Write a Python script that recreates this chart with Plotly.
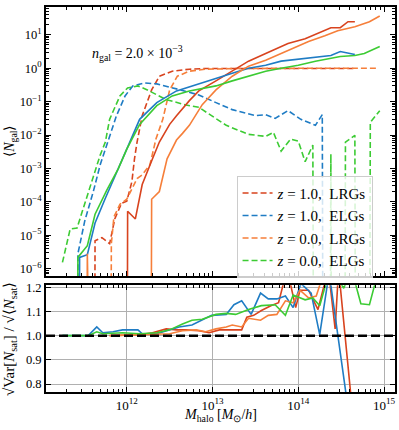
import numpy as np
import plotly.graph_objects as go
from plotly.subplots import make_subplots

# ---- data: log10(M_halo [Msun/h]) and log10(<N_gal>); None = empty bin (N = 0)
lrg_z1_cen_logm = [11.53, 11.63, 11.71, 11.80, 11.86, 11.94, 12.00, 12.06, 12.09, 12.12, 12.18, 12.29,
                   12.38, 12.53, 12.73, 12.92, 13.30, 13.70, 14.10, 14.40, 14.66]
lrg_z1_cen_logn = [None, -5.16, -5.07, -5.25, -4.51, -4.04, -3.98, -3.39, -2.71, -2.21, -1.42, -0.65,
                   -0.24, -0.09, -0.03, -0.01, -0.01, -0.01, -0.01, -0.01, -0.01]

elg_z1_cen_logm = [11.34, 11.43, 11.51, 11.61, 11.69, 11.78, 11.88, 11.98, 12.07, 12.21, 12.35, 12.58,
                   12.84, 13.04, 13.23, 13.50, 13.62, 13.73, 13.88, 14.03, 14.20, 14.28, 14.38]
elg_z1_cen_logn = [None, -5.55, -4.57, -3.69, -2.89, -2.21, -1.42, -0.83, -0.53, -0.44, -0.47, -0.62,
                   -0.80, -1.03, -1.24, -1.42, -1.39, -1.50, -1.27, -1.53, -1.71, -1.39, None]

lrg_z0_cen_logm = [11.72, 11.82, 11.85, 11.92, 12.00, 12.07, 12.12, 12.18, 12.27, 12.34, 12.42, 12.50,
                   12.59, 12.73, 12.92, 13.30, 13.70, 14.10, 14.50, 14.94]
lrg_z0_cen_logn = [None, -5.25, -4.45, -4.07, -3.92, -3.54, -3.30, -3.19, -2.89, -2.12, -1.53, -0.65,
                   -0.24, -0.09, -0.03, -0.01, 0.0, 0.0, 0.0, 0.0]

elg_z0_cen_logm = [11.25, 11.34, 11.42, 11.58, 11.69, 11.75, 11.80, 11.92, 12.01, 12.13, 12.24, 12.46,
                   12.69, 12.84, 13.16, 13.42, 13.62, 13.71, 13.80, 13.91, 14.00, 14.08, 14.17, 14.28,
                   14.38, 14.47, 14.55, 14.66, 14.75, 14.84, 14.95]
elg_z0_cen_logn = [-5.81, -4.81, -4.78, -3.48, -2.60, -2.21, -1.53, -0.83, -0.59, -0.53, -0.65, -0.94,
                   -1.10, -1.17, -1.71, -1.98, -2.04, -1.92, -2.48, -2.12, -2.18, -2.80, -2.30, None,
                   -2.57, None, -2.21, -2.01, None, -1.62, -1.27]

lrg_z1_sat_logm = [11.92, 12.01, 12.10, 12.18, 12.30, 12.38, 12.50, 12.58, 12.73, 12.84, 13.04, 13.23,
                   13.42, 13.62, 13.88, 14.08, 14.27, 14.38, 14.49, 14.58, 14.66]
lrg_z1_sat_logn = [None, -4.28, -4.51, -3.48, -2.71, -2.21, -1.68, -1.42, -0.97, -0.68, -0.38, -0.09,
                   0.21, 0.44, 0.74, 0.88, 1.09, 1.21, 1.21, 1.39, 1.39]

elg_z1_sat_logm = [11.34, 11.45, 11.54, 11.63, 11.75, 11.88, 12.01, 12.15, 12.35, 12.58, 12.76, 12.94,
                   13.04, 13.23, 13.42, 13.62, 13.80, 14.00, 14.20, 14.38, 14.49, 14.66]
elg_z1_sat_logn = [None, -5.66, -5.58, -4.63, -3.89, -3.10, -2.36, -1.53, -1.03, -0.68, -0.53, -0.38,
                   -0.29, -0.15, 0.00, 0.09, 0.21, 0.27, 0.32, 0.38, 0.50, 0.41]

lrg_z0_sat_logm = [11.43, 11.54, 11.63, 12.18, 12.29, 12.38, 12.47, 12.58, 12.65, 12.73, 12.88, 13.04,
                   13.23, 13.42, 13.62, 13.88, 14.12, 14.31, 14.46, 14.66, 14.83, 14.95]
lrg_z0_sat_logn = [None, -5.55, None, None, -3.92, -3.69, -2.71, -2.15, -1.95, -1.71, -1.09, -0.65,
                   -0.24, 0.06, 0.24, 0.53, 0.80, 0.97, 1.12, 1.24, 1.39, 1.56]

elg_z0_sat_logm = [11.34, 11.43, 11.54, 11.63, 11.77, 11.90, 12.00, 12.15, 12.35, 12.53, 12.73, 12.94,
                   13.04, 13.23, 13.42, 13.62, 13.80, 14.00, 14.20, 14.38, 14.49, 14.66, 14.77, 14.95]
elg_z0_sat_logn = [None, -5.66, -5.31, -4.37, -3.63, -3.01, -2.42, -1.68, -1.12, -0.83, -0.68, -0.59,
                   -0.53, -0.38, -0.24, -0.09, 0.00, 0.09, 0.21, 0.29, 0.35, 0.38, 0.44, 0.65]

# ---- satellite variance ratio sqrt(Var[N_sat]) / sqrt(<N_sat>)
lrg_z1_ratio_logm = [11.80, 12.15, 12.30, 12.46, 12.58, 12.69, 12.84, 12.96, 13.08, 13.19, 13.34, 13.40,
                     13.48, 13.57, 13.68, 13.77, 13.87, 13.97, 14.02, 14.12, 14.23, 14.35, 14.43, 14.47, 14.64]
lrg_z1_ratio = [1.0, 1.004, 1.012, 1.028, 1.024, 1.024, 1.020, 1.012, 1.024, 1.024, 1.024, 1.076,
                1.084, 1.104, 1.124, 1.136, 1.276, 1.116, 1.188, 1.188, 1.108, 1.276, 1.028, 1.276, 0.656]

elg_z1_ratio_logm = [11.25, 11.55, 11.65, 11.72, 11.84, 11.95, 12.13, 12.18, 12.35, 12.50, 12.61, 12.76,
                     12.88, 12.99, 13.16, 13.25, 13.34, 13.45, 13.56, 13.65, 13.75, 13.85, 13.94, 14.03,
                     14.15, 14.25, 14.36, 14.58]
elg_z1_ratio = [1.0, 1.0, 1.036, 1.012, 1.016, 1.024, 1.024, 1.008, 1.008, 1.024, 1.036, 1.044,
                1.064, 1.084, 1.088, 1.128, 1.144, 1.088, 1.176, 1.152, 1.152, 1.164, 1.116, 1.216,
                1.176, 1.004, 1.26, 0.70]

lrg_z0_ratio_logm = [11.80, 12.30, 12.50, 12.65, 12.81, 12.92, 13.04, 13.16, 13.23, 13.34, 13.42, 13.56,
                     13.65, 13.75, 13.85, 13.94, 14.02, 14.12, 14.21, 14.25, 14.36, 14.46, 14.58, 14.69,
                     14.83, 14.95]
lrg_z0_ratio = [1.0, 1.004, 1.008, 1.020, 1.024, 1.016, 1.028, 1.036, 1.044, 1.036, 1.072, 1.064,
                1.084, 1.088, 1.144, 1.136, 1.188, 1.156, 1.164, 1.208, 1.276, 1.256, 1.276, 1.256,
                1.276, 1.30]

elg_z0_ratio_logm = [11.25, 11.55, 11.65, 11.72, 11.95, 12.15, 12.35, 12.50, 12.65, 12.76, 12.88, 13.04,
                     13.16, 13.27, 13.42, 13.57, 13.73, 13.85, 13.94, 14.08, 14.17, 14.25, 14.32, 14.43,
                     14.53, 14.62, 14.73, 14.83, 14.94]
elg_z0_ratio = [1.0, 1.0, 1.016, 1.008, 1.012, 1.008, 1.012, 1.024, 1.048, 1.064, 1.068, 1.088,
                1.092, 1.088, 1.108, 1.124, 1.128, 1.084, 1.168, 1.148, 1.156, 1.124, 1.212, 1.256,
                1.196, 1.276, 1.132, 1.128, 1.276]

RED, BLUE, ORANGE, GREEN = "#d8431e", "#1f7cc4", "#f67f3a", "#3ccb33"
FONT = "Liberation Serif"


def mass(logm):
    return 10 ** np.array(logm, dtype=float)


def ngal(logn):
    a = np.array(logn, dtype=float)
    n = np.where(np.isnan(a), 0.0, 10 ** np.nan_to_num(a))
    # empty bins drop off the bottom of the log axis (like matplotlib's clip)
    return np.where(n > 0, n, 1e-100)


fig = make_subplots(rows=2, cols=1, shared_xaxes=True)

series = [
    ("<i>z</i> = 1.0,  LRGs", RED, lrg_z1_cen_logm, lrg_z1_cen_logn, lrg_z1_sat_logm, lrg_z1_sat_logn,
     lrg_z1_ratio_logm, lrg_z1_ratio),
    ("<i>z</i> = 1.0,  ELGs", BLUE, elg_z1_cen_logm, elg_z1_cen_logn, elg_z1_sat_logm, elg_z1_sat_logn,
     elg_z1_ratio_logm, elg_z1_ratio),
    ("<i>z</i> = 0.0,  LRGs", ORANGE, lrg_z0_cen_logm, lrg_z0_cen_logn, lrg_z0_sat_logm, lrg_z0_sat_logn,
     lrg_z0_ratio_logm, lrg_z0_ratio),
    ("<i>z</i> = 0.0,  ELGs", GREEN, elg_z0_cen_logm, elg_z0_cen_logn, elg_z0_sat_logm, elg_z0_sat_logn,
     elg_z0_ratio_logm, elg_z0_ratio),
]

# centrals (dashed) carry the legend
for name, color, cm, cn, sm, sn, rm, rv in series:
    fig.add_trace(go.Scatter(x=mass(cm), y=ngal(cn), mode="lines", name=name,
                             line=dict(color=color, width=1.6, dash="6px,3px")), row=1, col=1)
for name, color, cm, cn, sm, sn, rm, rv in series:
    fig.add_trace(go.Scatter(x=mass(sm), y=ngal(sn), mode="lines", showlegend=False,
                             line=dict(color=color, width=1.6)), row=1, col=1)
for name, color, cm, cn, sm, sn, rm, rv in series:
    fig.add_trace(go.Scatter(x=mass(rm), y=rv, mode="lines", showlegend=False,
                             line=dict(color=color, width=1.6)), row=2, col=1)

# Poisson reference
fig.add_shape(type="line", xref="x2 domain", yref="y2", x0=0, x1=1, y0=1, y1=1,
              line=dict(color="black", width=2.5, dash="9px,4px"))

x_major = [1e12, 1e13, 1e14, 1e15]
x_minor = [k * 10.0 ** e for e in range(11, 16) for k in range(2, 10)]
y_major = [10.0 ** e for e in range(-6, 2)]
y_minor = [k * 10.0 ** e for e in range(-7, 2) for k in range(2, 10)]

frame = dict(showline=True, linecolor="black", linewidth=1.8, mirror="allticks", ticks="inside",
             ticklen=5, tickwidth=1, tickcolor="black", zeroline=False)

fig.update_layout(
    width=399, height=430,
    margin=dict(l=46, r=3, t=2, b=38),
    paper_bgcolor="white", plot_bgcolor="white",
    font=dict(family=FONT, size=12, color="black"),
    xaxis=dict(type="log", range=[11.058, 15.128], domain=[0, 1], anchor="y", showticklabels=False,
               tickvals=x_major, showgrid=False,
               minor=dict(tickmode="array", tickvals=x_minor, ticks="inside", ticklen=3,
                          tickcolor="black", showgrid=False), **frame),
    xaxis2=dict(type="log", range=[11.058, 15.128], domain=[0, 1], anchor="y2", matches="x",
                tickvals=x_major, ticktext=["10<sup>12</sup>", "10<sup>13</sup>", "10<sup>14</sup>",
                                            "10<sup>15</sup>"],
                tickfont=dict(size=13), showgrid=True, gridcolor="#b0b0b0", gridwidth=1,
                minor=dict(tickmode="array", tickvals=x_minor, ticks="inside", ticklen=3,
                           tickcolor="black", showgrid=False), **frame),
    yaxis=dict(type="log", range=[-6.22, 1.83], domain=[0.301, 1], anchor="x",
               tickvals=y_major,
               ticktext=["10<sup>\u22126</sup>", "10<sup>\u22125</sup>", "10<sup>\u22124</sup>",
                         "10<sup>\u22123</sup>", "10<sup>\u22122</sup>", "10<sup>\u22121</sup>",
                         "10<sup>0</sup>", "10<sup>1</sup>"],
               tickfont=dict(size=12.5), showgrid=False,
               minor=dict(tickmode="array", tickvals=y_minor, ticks="inside", ticklen=3,
                          tickcolor="black", showgrid=False), **frame),
    yaxis2=dict(range=[0.767, 1.208], domain=[0, 0.277], anchor="x2",
                tickvals=[0.8, 0.9, 1.0, 1.1, 1.2], ticktext=["0.8", "0.9", "1.0", "1.1", "1.2"],
                tickfont=dict(size=12.5), showgrid=True, gridcolor="#b0b0b0", gridwidth=1, **frame),
    legend=dict(x=0.546, y=0.5615, xanchor="left", yanchor="top", entrywidth=108,
                bgcolor="rgba(255,255,255,0.8)", bordercolor="#cccccc", borderwidth=1,
                font=dict(family=FONT, size=15), tracegroupgap=0),
)

fig.add_annotation(text="<i>n</i><sub>gal</sub> = 2.0 \u00d7 10<sup>\u22123</sup>", xref="x", yref="y",
                   x=12.12, y=0.44, showarrow=False, font=dict(size=14))
fig.add_annotation(text="\u27e8<i>N</i><sub>gal</sub>\u27e9", xref="paper", yref="paper",
                   x=-0.1, y=0.65, xanchor="center", yanchor="middle", textangle=-90,
                   showarrow=False, font=dict(size=14))
fig.add_annotation(text="\u221aVar[<i>N</i><sub>sat</sub>] / \u221a\u27e8<i>N</i><sub>sat</sub>\u27e9",
                   xref="paper", yref="paper", x=-0.103, y=0.138, xanchor="center", yanchor="middle",
                   textangle=-90, showarrow=False, font=dict(size=15))
fig.add_annotation(text="<i>M</i><sub>halo</sub> [<i>M</i><sub>\u2299</sub>/<i>h</i>]",
                   xref="paper", yref="paper", x=0.5, y=-0.062, xanchor="center", yanchor="middle",
                   showarrow=False, font=dict(size=14))

# page body has a default 8px margin; drop it so the figure sits at the window corner
fig.write_html("out.html", config={"displayModeBar": False},
               post_script="document.body.style.margin='0';")
